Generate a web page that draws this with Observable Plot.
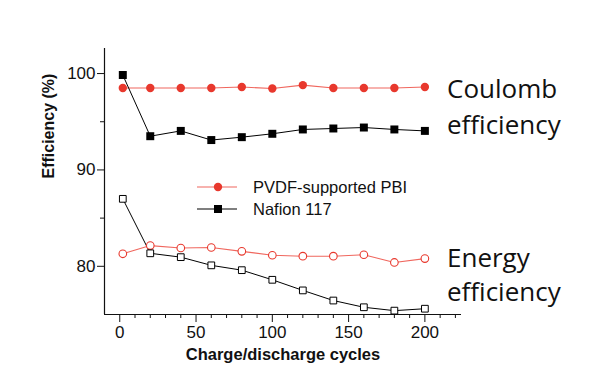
<!DOCTYPE html>
<html>
<head>
<meta charset="utf-8">
<script src="https://cdn.jsdelivr.net/npm/d3@7"></script>
<script src="https://cdn.jsdelivr.net/npm/@observablehq/plot@0.6"></script>
<style>
  body { margin: 0; background: #fff; }
  #wrap { position: relative; width: 594px; height: 388px; font-family: "Liberation Sans", Arial, sans-serif; }
  .note { position: absolute; font-family: "Open Sans", sans-serif; font-size: 26px; color: #111; }
  .legend { position: absolute; left: 197px; top: 176px; font-size: 16.5px; color: #111; }
  .legend .row { display: flex; align-items: center; height: 22px; }
  .legend svg { margin-right: 16px; }
</style>
</head>
<body>
<div id="wrap"></div>
<script>
const cycles = [2, 20, 40, 60, 80, 100, 120, 140, 160, 180, 200];
const coulombPBI    = [98.5, 98.5, 98.5, 98.5, 98.6, 98.45, 98.8, 98.5, 98.5, 98.5, 98.6];
const coulombNafion = [99.85, 93.5, 94.05, 93.1, 93.4, 93.75, 94.2, 94.3, 94.4, 94.2, 94.05];
const energyPBI     = [81.3, 82.15, 81.9, 81.95, 81.55, 81.15, 81.05, 81.05, 81.2, 80.4, 80.8];
const energyNafion  = [87.0, 81.35, 80.95, 80.1, 79.6, 78.6, 77.5, 76.45, 75.75, 75.4, 75.6];
const seriesNames = ["PVDF-supported PBI", "Nafion 117"];
const notes = [["Coulomb", "efficiency"], ["Energy", "efficiency"]];
const xDomain = [-10, 224];
const yDomain = [75, 102.6];
const xMajor = [0, 50, 100, 150, 200];
const xMinor = d3.range(10, 221, 10).filter(v => v % 50 !== 0);
const yMajor = [80, 90, 100];
const yMinor = [85, 95];

const red = "#e8382d", redLine = "#f0675e";
const mk = arr => cycles.map((c, i) => ({x: c, y: arr[i]}));
const cP = mk(coulombPBI), cN = mk(coulombNafion), eP = mk(energyPBI), eN = mk(energyNafion);

const chart = Plot.plot({
  width: 594, height: 388,
  marginLeft: 104, marginRight: 133, marginTop: 48, marginBottom: 74,
  style: {fontFamily: "'Liberation Sans', Arial, sans-serif", fontSize: "17px", color: "#111", background: "transparent"},
  x: {domain: xDomain},
  y: {domain: yDomain},
  marks: [
    Plot.ruleX([xDomain[0]], {stroke: "#111", strokeWidth: 1.2}),
    Plot.ruleY([yDomain[0]], {stroke: "#111", strokeWidth: 1.2}),
    Plot.axisX({ticks: xMajor, tickSize: 8, tickPadding: 3, label: null, fontSize: 17, stroke: "#111"}),
    Plot.axisX({ticks: xMinor, tickSize: 4, tickFormat: () => "", label: null, stroke: "#111"}),
    Plot.axisY({ticks: yMajor, tickSize: 7, tickPadding: 2, label: null, fontSize: 17, stroke: "#111"}),
    Plot.axisY({ticks: yMinor, tickSize: 4, tickFormat: () => "", label: null, stroke: "#111"}),
    Plot.line(cP, {x: "x", y: "y", stroke: redLine, strokeWidth: 1.1}),
    Plot.line(cN, {x: "x", y: "y", stroke: "#000", strokeWidth: 1}),
    Plot.line(eP, {x: "x", y: "y", stroke: redLine, strokeWidth: 1.1}),
    Plot.line(eN, {x: "x", y: "y", stroke: "#000", strokeWidth: 1}),
    Plot.dot(cP, {x: "x", y: "y", r: 4.2, fill: red, stroke: "none"}),
    Plot.dot(cN, {x: "x", y: "y", r: 4.5, symbol: "square", fill: "#000", stroke: "none"}),
    Plot.dot(eP, {x: "x", y: "y", r: 3.8, fill: "#fff", stroke: red, strokeWidth: 1.1}),
    Plot.dot(eN, {x: "x", y: "y", r: 3.8, symbol: "square", fill: "#fff", stroke: "#000", strokeWidth: 1}),
    Plot.text(["Charge/discharge cycles"], {frameAnchor: "bottom", dy: 45, fontWeight: "bold", fontSize: 16.5, fill: "#111"}),
    Plot.text(["Efficiency (%)"], {frameAnchor: "left", rotate: -90, dx: -56, dy: -3, fontWeight: "bold", fontSize: 16, fill: "#111"})
  ]
});
const wrap = document.getElementById("wrap");
wrap.appendChild(chart);

// legend
const legend = document.createElement("div");
legend.className = "legend";
const swatch = (i) => {
  const line = `<line x1="0" x2="40" y1="11" y2="11" stroke="${i === 0 ? redLine : "#000"}" stroke-width="1.1"/>`;
  const m = i === 0
    ? `<circle cx="21" cy="11" r="4.2" fill="${red}"/>`
    : `<rect x="17" y="7" width="8" height="8" fill="#000"/>`;
  return `<svg width="40" height="22">${line}${m}</svg>`;
};
legend.innerHTML = seriesNames.map((n, i) => `<div class="row">${swatch(i)}<span>${n}</span></div>`).join("");
wrap.appendChild(legend);

// annotations
const pos = [{left: 447, top: 70, lh: 36}, {left: 447, top: 240, lh: 34}];
notes.forEach((lines, i) => {
  const d = document.createElement("div");
  d.className = "note";
  d.style.left = pos[i].left + "px";
  d.style.top = pos[i].top + "px";
  d.style.lineHeight = pos[i].lh + "px";
  d.innerHTML = lines.join("<br>");
  wrap.appendChild(d);
});
</script>
</body>
</html>
